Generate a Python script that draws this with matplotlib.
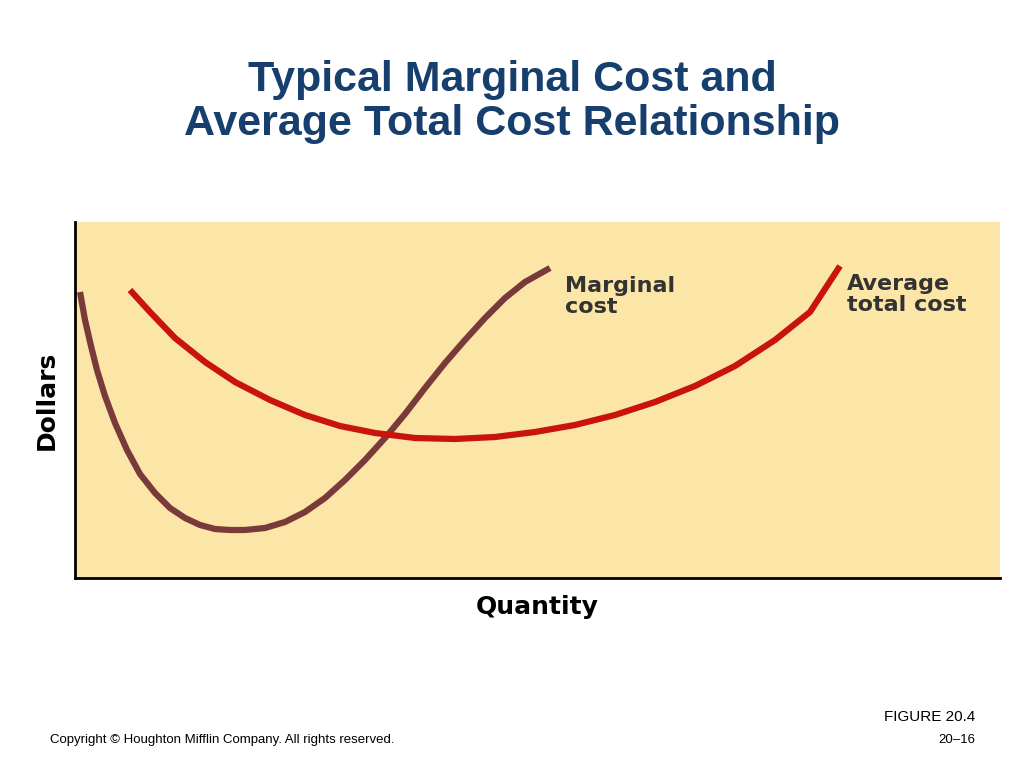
import matplotlib.pyplot as plt

# Data (arbitrary units: quantity, dollars)
mc_q = [5, 10, 16, 22, 30, 40, 52, 65, 80, 95, 110, 125, 140, 155, 170, 190, 210, 230, 250, 270, 290, 310, 330, 350, 370, 390, 410, 430, 450, 475]
mc_d = [286, 258, 232, 208, 182, 155, 128, 104, 85, 70, 60, 53, 49, 48, 48, 50, 56, 66, 80, 98, 118, 140, 164, 190, 215, 238, 260, 280, 296, 310]
atc_q = [55, 75, 100, 130, 160, 195, 230, 265, 300, 340, 380, 420, 460, 500, 540, 580, 620, 660, 700, 735, 765]
atc_d = [288, 266, 240, 216, 196, 178, 163, 152, 145, 140, 139, 141, 146, 153, 163, 176, 192, 212, 238, 266, 312]

fig = plt.figure(figsize=(10.24, 7.67), dpi=100)
fig.patch.set_facecolor('white')
ax = fig.add_axes([75/1024, 1-578/767, 925/1024, 356/767])
ax.set_facecolor('#fbe6a8')
ax.set_xlim(0, 925)
ax.set_ylim(0, 356)
for s in ['top', 'right']:
    ax.spines[s].set_visible(False)
for s in ['left', 'bottom']:
    ax.spines[s].set_linewidth(2)
    ax.spines[s].set_color('black')
ax.set_xticks([]); ax.set_yticks([])

ax.plot(mc_q, mc_d, color='#7b3a3a', lw=4.5, solid_capstyle='butt', solid_joinstyle='round')
ax.plot(atc_q, atc_d, color='#c8140c', lw=4.5, solid_capstyle='butt', solid_joinstyle='round')

ax.text(490, 302, 'Marginal\ncost', fontsize=16, fontweight='bold', color='#333333', va='top', linespacing=1.05)
ax.text(772, 304, 'Average\ntotal cost', fontsize=16, fontweight='bold', color='#333333', va='top', linespacing=1.05)

ax.set_xlabel('Quantity', fontsize=18, fontweight='bold', labelpad=12)
ax.set_ylabel('Dollars', fontsize=18, fontweight='bold', labelpad=12)

fig.text(0.5, 1-102/767, 'Typical Marginal Cost and\nAverage Total Cost Relationship',
         ha='center', va='center', fontsize=31, fontweight='bold', color='#163f6e',
         family='Liberation Sans', linespacing=1.15)
fig.text(50/1024, 1-740/767, 'Copyright © Houghton Mifflin Company. All rights reserved.',
         fontsize=9.5, family='Liberation Sans', va='center')
fig.text(975/1024, 1-717/767, 'FIGURE 20.4', fontsize=11, family='Liberation Sans', ha='right', va='center')
fig.text(975/1024, 1-740/767, '20–16', fontsize=9.5, family='Liberation Sans', ha='right', va='center')

fig.savefig('out.png', dpi=100)
